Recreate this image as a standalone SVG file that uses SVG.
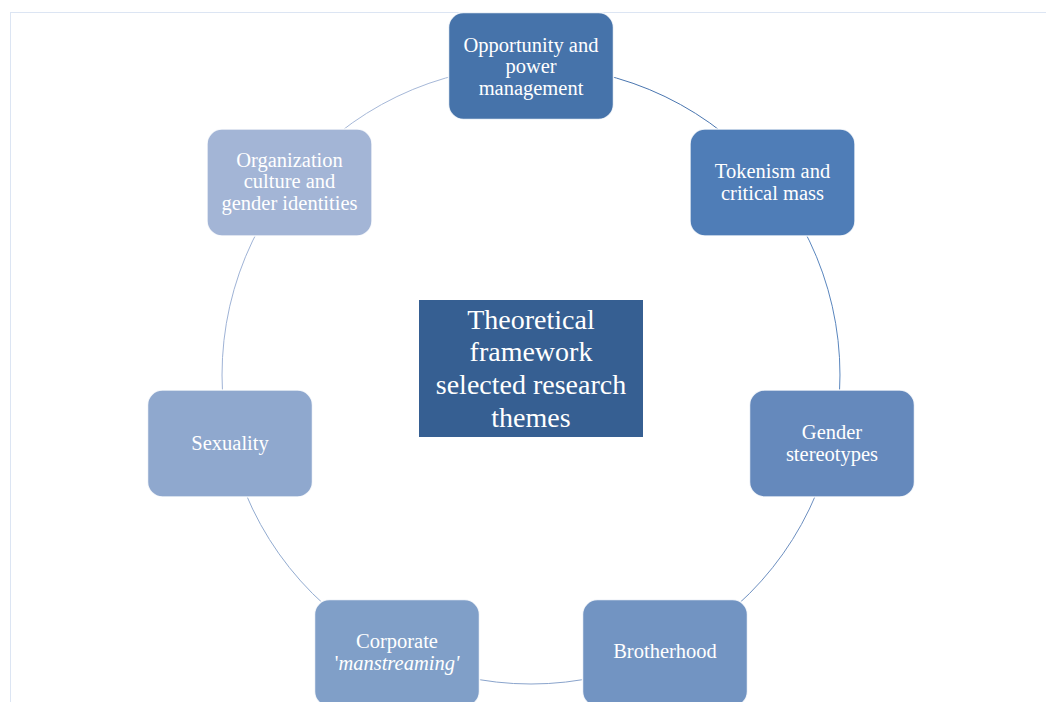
<svg xmlns="http://www.w3.org/2000/svg" width="1046" height="702" viewBox="0 0 1046 702">
  <style>
    .node { stroke: #ffffff; stroke-width: 1.5; stroke-opacity: 0.85; }
    .label { font-family: "Liberation Serif", "Times New Roman", serif; font-size: 20.5px; fill: #ffffff; text-anchor: middle; }
    .title { font-family: "Liberation Serif", "Times New Roman", serif; font-size: 28px; fill: #ffffff; text-anchor: middle; }
    .arc { fill: none; stroke-width: 1; }
  </style>

  <!-- page background and frame -->
  <rect x="0" y="0" width="1046" height="702" fill="#ffffff"/>
  <rect x="10.5" y="12.5" width="1100" height="800" fill="none" stroke="#dce5f3" stroke-width="1"/>

  <!-- cycle connectors: arcs of a circle centred at (531,375), r=309 -->
  <g id="connectors">
    <path class="arc" stroke="#4a76b0" d="M531 66 A309 309 0 0 1 772.6 182.3"/>
    <path class="arc" stroke="#5a86be" d="M772.6 182.3 A309 309 0 0 1 832.2 443.8"/>
    <path class="arc" stroke="#6d8fc0" d="M832.2 443.8 A309 309 0 0 1 665.1 653.4"/>
    <path class="arc" stroke="#8aa4cc" d="M665.1 653.4 A309 309 0 0 1 396.9 653.4"/>
    <path class="arc" stroke="#92abd0" d="M396.9 653.4 A309 309 0 0 1 229.8 443.8"/>
    <path class="arc" stroke="#9fb3d6" d="M229.8 443.8 A309 309 0 0 1 289.4 182.3"/>
    <path class="arc" stroke="#a6b8d8" d="M289.4 182.3 A309 309 0 0 1 531 66"/>
  </g>

  <!-- central theme -->
  <g id="center">
    <rect x="419" y="300" width="224" height="137" fill="#365f92"/>
    <text class="title" x="531" y="329">Theoretical</text>
    <text class="title" x="531" y="361">framework</text>
    <text class="title" x="531" y="394">selected research</text>
    <text class="title" x="531" y="427">themes</text>
  </g>

  <g id="opportunity">
    <rect class="node" x="448.5" y="12.5" width="165" height="107" rx="15" fill="#4673aa"/>
    <text class="label" x="531" y="51.5">Opportunity and</text>
    <text class="label" x="531" y="73">power</text>
    <text class="label" x="531" y="94.5">management</text>
  </g>

  <g id="tokenism">
    <rect class="node" x="690" y="129" width="165" height="107" rx="15" fill="#4f7db7"/>
    <text class="label" x="772.5" y="178.3">Tokenism and</text>
    <text class="label" x="772.5" y="200">critical mass</text>
  </g>

  <g id="stereotypes">
    <rect class="node" x="749.5" y="390" width="165" height="107" rx="15" fill="#6589bc"/>
    <text class="label" x="832" y="439.3">Gender</text>
    <text class="label" x="832" y="460.8">stereotypes</text>
  </g>

  <g id="brotherhood">
    <rect class="node" x="582.5" y="599.5" width="165" height="107" rx="15" fill="#7294c2"/>
    <text class="label" x="665" y="658.3">Brotherhood</text>
  </g>

  <g id="manstreaming">
    <rect class="node" x="314.5" y="599.5" width="165" height="107" rx="15" fill="#809fc8"/>
    <text class="label" x="397" y="648.3">Corporate</text>
    <text class="label" x="397" y="670">'<tspan font-style="italic">manstreaming'</tspan></text>
  </g>

  <g id="sexuality">
    <rect class="node" x="147.5" y="390" width="165" height="107" rx="15" fill="#8fa8ce"/>
    <text class="label" x="230" y="450">Sexuality</text>
  </g>

  <g id="culture">
    <rect class="node" x="207" y="129" width="165" height="107" rx="15" fill="#a3b5d6"/>
    <text class="label" x="289.5" y="166.7">Organization</text>
    <text class="label" x="289.5" y="188.3">culture and</text>
    <text class="label" x="289.5" y="210">gender identities</text>
  </g>
</svg>
